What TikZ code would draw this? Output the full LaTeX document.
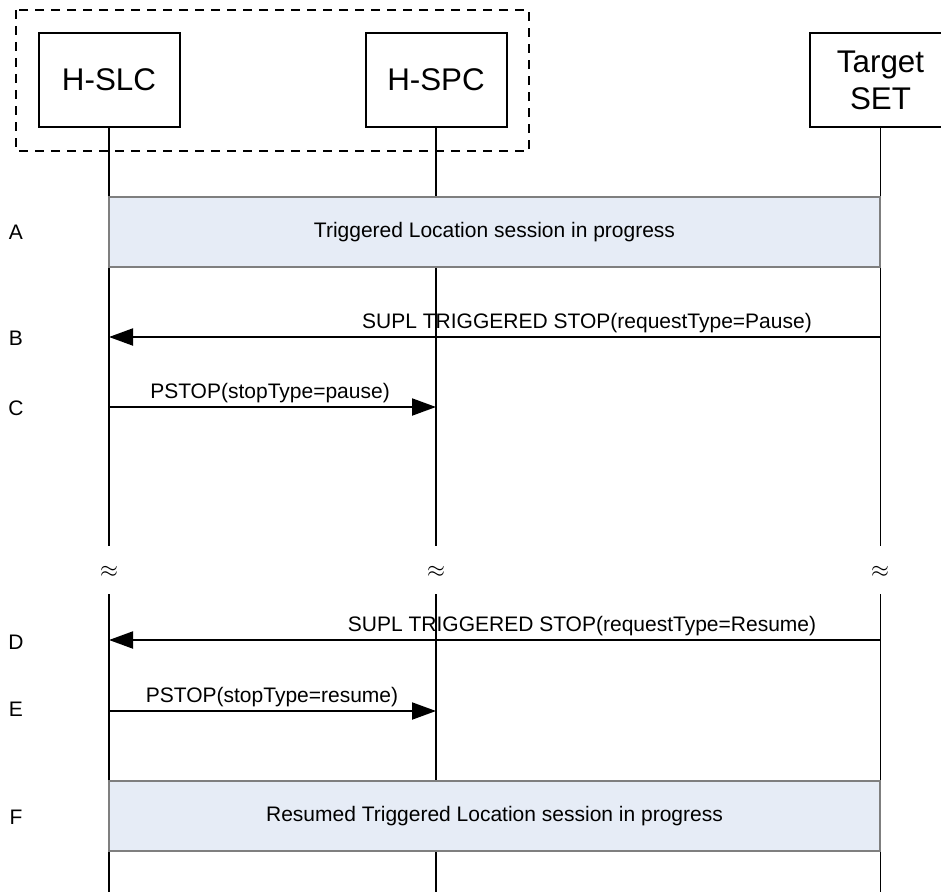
\documentclass[tikz,border=0pt]{standalone}
\usepackage{fontspec}
\setmainfont{Liberation Sans}
\usetikzlibrary{arrows.meta}
\definecolor{bandblue}{HTML}{E6ECF6}
\definecolor{bandedge}{HTML}{7F7F7F}
\begin{document}
\begin{tikzpicture}[x=0.75pt,y=-0.75pt,
  every node/.style={inner sep=0pt,outer sep=0pt},
  entity/.style={draw,line width=1.5pt,fill=white,minimum width=105.75pt,minimum height=70.5pt,align=center,font=\fontsize{23.5}{27.75}\selectfont},
  lifeline/.style={line width=1pt},
  band/.style={draw=bandedge,line width=1.1pt,fill=bandblue,minimum width=578.25pt,minimum height=52.5pt,font=\fontsize{15.75}{18}\selectfont},
  msg/.style={line width=1.5pt,-{Triangle[length=18pt,width=12.75pt]}},
  msglabel/.style={anchor=base,font=\fontsize{15.75}{18}\selectfont},
  steplabel/.style={font=\fontsize{15.75}{18}\selectfont},
  group/.style={draw,line width=1.3pt,dash pattern=on 6.75pt off 5.25pt},
  gapsign/.style={font=\fontsize{18.5}{18.5}\selectfont}
]
\clip (0,0) rectangle (941,892);
\fill[white] (0,0) rectangle (941,892);

% entities
\node[entity] (slc) at (109,80) {H-SLC};
\node[entity] (spc) at (436,80) {H-SPC};
\node[entity] (set) at (880.5,80) {Target\\SET};

% coordinates for rows
\coordinate (gapTop) at (0,546);
\coordinate (gapBot) at (0,594);
\coordinate (bottom) at (0,892);
\coordinate (mB) at (0,337);
\coordinate (mC) at (0,407);
\coordinate (mD) at (0,640);
\coordinate (mE) at (0,711);

% lifelines
\foreach \e in {slc,spc,set}{
  \draw[lifeline] (\e.south) -- (\e.south |- gapTop);
  \draw[lifeline] (\e.south |- gapBot) -- (\e.south |- bottom);
}

% group box
\draw[group] (16,10) rectangle (529,151);

% bands
\node[band] (bandA) at (494.5,232) {Triggered Location session in progress};
\node[band] (bandF) at (494.5,816) {Resumed Triggered Location session in progress};

% messages
\draw[msg] (set.south |- mB) -- (slc.south |- mB);
\node[msglabel] (tB) at (587,328) {SUPL TRIGGERED STOP(requestType=Pause)};
\draw[msg] (slc.south |- mC) -- (spc.south |- mC);
\node[msglabel] (tC) at (270,398) {PSTOP(stopType=pause)};
\draw[msg] (set.south |- mD) -- (slc.south |- mD);
\node[msglabel] (tD) at (582,631) {SUPL TRIGGERED STOP(requestType=Resume)};
\draw[msg] (slc.south |- mE) -- (spc.south |- mE);
\node[msglabel] (tE) at (272,702) {PSTOP(stopType=resume)};

% gap signs
\node[gapsign] (g1) at (109,572) {$\approx$};
\node[gapsign] (g2) at (436,572) {$\approx$};
\node[gapsign] (g3) at (880,572) {$\approx$};

% step labels
\node[steplabel] (lA) at (16,232) {A};
\node[steplabel] (lB) at (16,338) {B};
\node[steplabel] (lC) at (16,408) {C};
\node[steplabel] (lD) at (16,642) {D};
\node[steplabel] (lE) at (16,709) {E};
\node[steplabel] (lF) at (16,817) {F};
\end{tikzpicture}
\end{document}
